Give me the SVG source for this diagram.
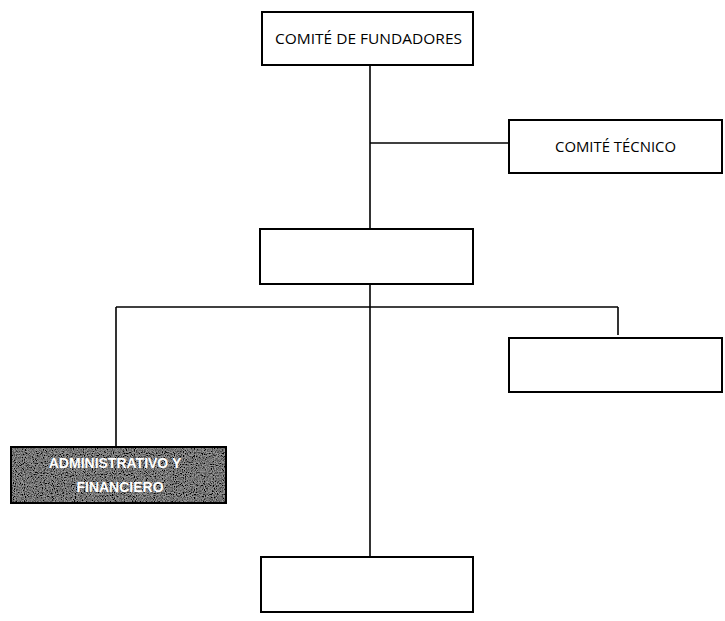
<svg xmlns="http://www.w3.org/2000/svg" width="725" height="621" viewBox="0 0 725 621">
<style>
.box{fill:#fff;stroke:#000;stroke-width:2}
.ln{stroke:#000;stroke-width:1.6;fill:none}
.t{font-family:"Open Sans","Liberation Sans",sans-serif;font-size:14px;fill:#000}
.w{font-family:"Liberation Sans",sans-serif;font-weight:bold;font-size:14px;fill:#fff}
</style>
<defs>
<filter id="noise" x="0" y="0" width="100%" height="100%">
<feTurbulence type="fractalNoise" baseFrequency="0.9" numOctaves="2" seed="3" result="n"/>
<feColorMatrix type="matrix" values="0 0 0 0 0  0 0 0 0 0  0 0 0 0 0  0 0 0 -2.6 1.75" in="n" result="a"/>
<feFlood flood-color="#000"/>
<feComposite in2="a" operator="in" result="dots"/>
<feFlood flood-color="#9a9a9a" result="bg"/>
<feMerge><feMergeNode in="bg"/><feMergeNode in="dots"/></feMerge>
</filter>
</defs>
<g id="connectors">
<line class="ln" x1="370" y1="65" x2="370" y2="229"/>
<line class="ln" x1="370" y1="143" x2="509" y2="143"/>
<line class="ln" x1="370" y1="284" x2="370" y2="557"/>
<line class="ln" x1="116" y1="307" x2="618" y2="307"/>
<line class="ln" x1="116" y1="307" x2="116" y2="447"/>
<line class="ln" x1="618" y1="307" x2="618" y2="335"/>
</g>
<g id="fundadores">
<rect class="box" x="262" y="12" width="211" height="53"/>
<text class="t" x="275" y="44" textLength="187" lengthAdjust="spacingAndGlyphs">COMITÉ DE FUNDADORES</text>
</g>
<g id="tecnico">
<rect class="box" x="509" y="120" width="213" height="53"/>
<text class="t" x="555" y="152" textLength="121" lengthAdjust="spacingAndGlyphs">COMITÉ TÉCNICO</text>
</g>
<g id="centro">
<rect class="box" x="260" y="229" width="213" height="55"/>
</g>
<g id="derecha">
<rect class="box" x="509" y="338" width="213" height="54"/>
</g>
<g id="administrativo">
<rect x="11" y="447" width="215" height="56" filter="url(#noise)"/>
<rect x="11" y="447" width="215" height="56" fill="none" stroke="#000" stroke-width="2"/>
<text class="w" x="115" y="468" text-anchor="middle">ADMINISTRATIVO Y</text>
<text class="w" x="120" y="492" text-anchor="middle">FINANCIERO</text>
</g>
<g id="abajo">
<rect class="box" x="261" y="557" width="212" height="55"/>
</g>
</svg>
